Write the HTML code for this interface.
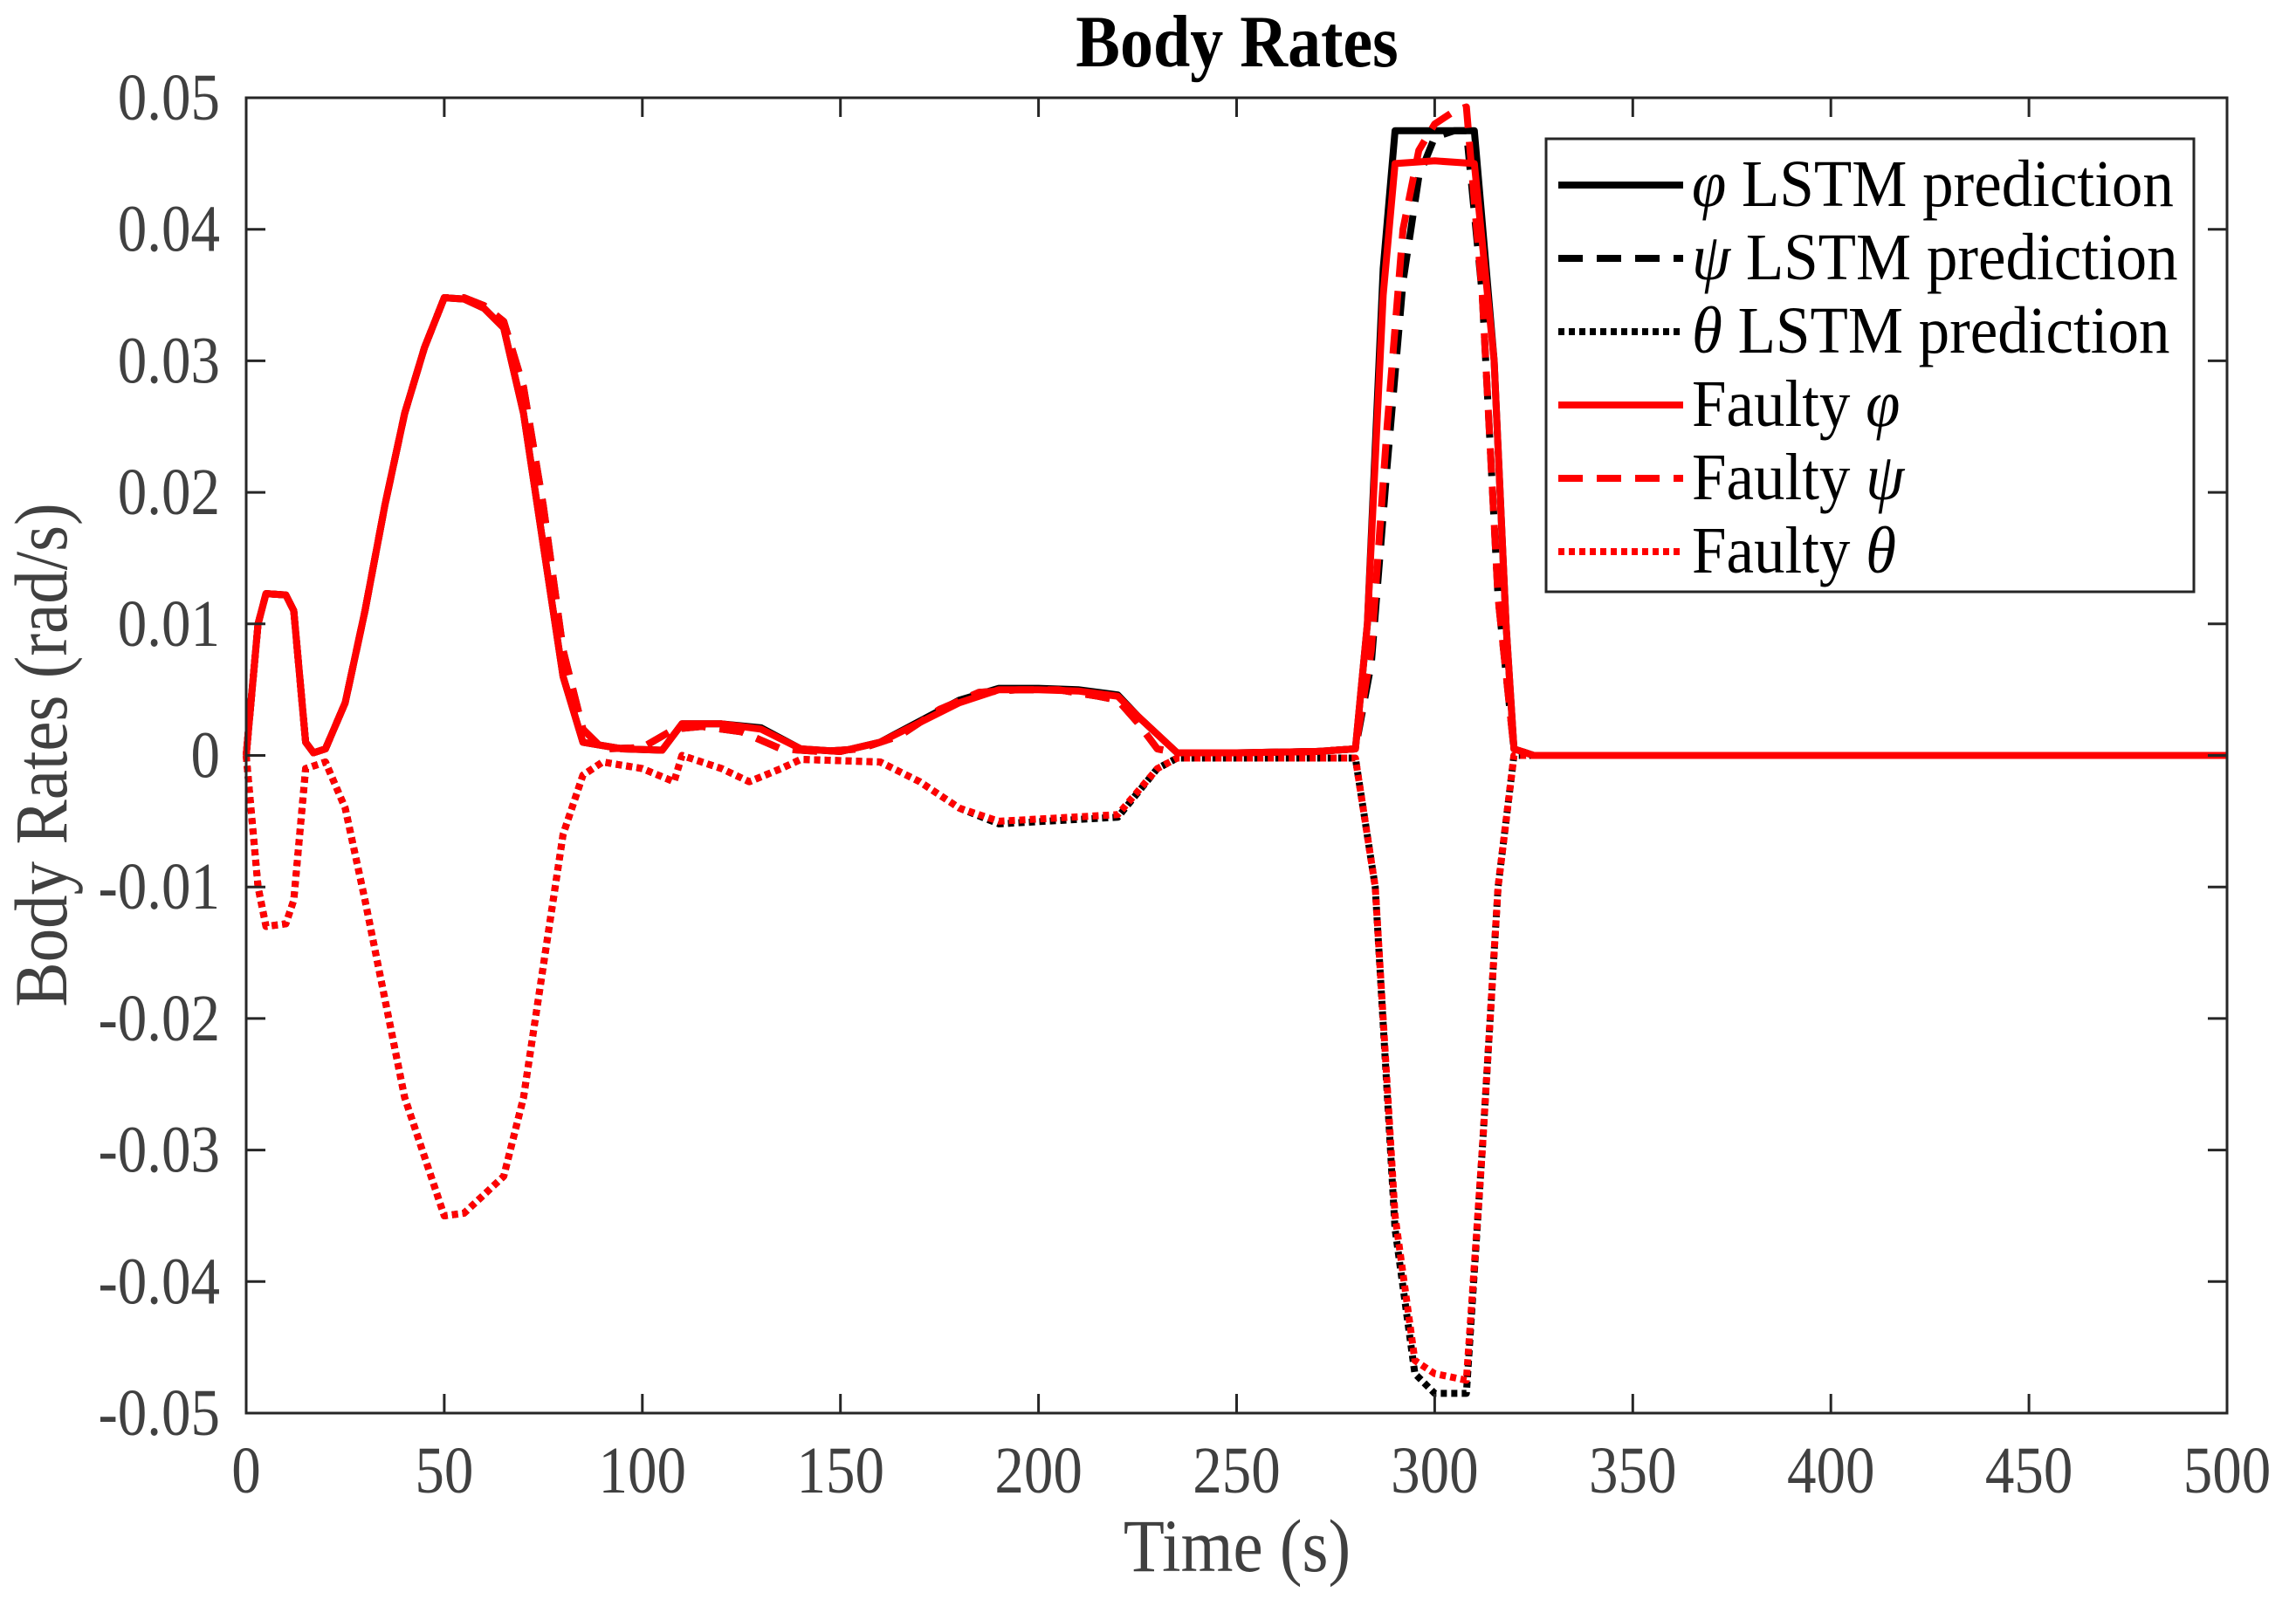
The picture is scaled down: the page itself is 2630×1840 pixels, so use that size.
<!DOCTYPE html>
<html><head><meta charset="utf-8"><style>
html,body{margin:0;padding:0;background:#fff;}
svg{display:block;font-family:"Liberation Serif",serif;}
</style></head><body>
<svg id="chart" width="2630" height="1840" viewBox="0 0 2630 1840" xmlns="http://www.w3.org/2000/svg">
<rect width="2630" height="1840" fill="#fff"/>
<text transform="translate(1417,76) scale(1,1.12)" text-anchor="middle" font-size="76" font-weight="bold" fill="#000">Body Rates</text>
<g id="series"></g>
<rect x="282" y="112" width="2269" height="1507" fill="none" stroke="#262626" stroke-width="3"/>
<g id="ticks"></g>
<text transform="translate(1417,1800) scale(1,1.12)" text-anchor="middle" font-size="77" fill="#404040">Time (s)</text>
<text transform="translate(76,865) rotate(-90) scale(1,1.12)" text-anchor="middle" font-size="77" fill="#404040">Body Rates (rad/s)</text>
<g>
<rect x="1771" y="159" width="742" height="519" fill="#fff" stroke="#262626" stroke-width="3"/>
<g id="legend-items"></g>
</g>
</svg>
<script>
const xTicks=[0,50,100,150,200,250,300,350,400,450,500];
const yTicks=[-0.05,-0.04,-0.03,-0.02,-0.01,0,0.01,0.02,0.03,0.04,0.05];
const yTickLabels=["-0.05","-0.04","-0.03","-0.02","-0.01","0","0.01","0.02","0.03","0.04","0.05"];
const tPhi=[0,3,5,10,12,15,17,20,25,30,35,40,45,50,55,60,65,70,75,80,85,95,105,110,120,130,140,150,160,170,180,190,200,210,220,225,235,250,270,280,283,287,290,300,310,315,318,320,325,500];
const faultyPhi=[0,0.010,0.0123,0.0122,0.011,0.001,0.0002,0.0005,0.004,0.011,0.019,0.026,0.031,0.0348,0.0347,0.034,0.0325,0.026,0.016,0.006,0.001,0.0005,0.0004,0.0024,0.0024,0.002,0.0005,0.0003,0.001,0.0025,0.004,0.005,0.005,0.0049,0.0045,0.003,0.0002,0.0002,0.0003,0.0005,0.010,0.035,0.045,0.0452,0.045,0.030,0.010,0.0005,0,0];
const lstmPhi=[0,0.010,0.0123,0.0122,0.011,0.001,0.0002,0.0005,0.004,0.011,0.019,0.026,0.031,0.0348,0.0347,0.034,0.0325,0.026,0.016,0.006,0.001,0.0005,0.0004,0.0024,0.0024,0.0021,0.0005,0.0003,0.001,0.0026,0.0042,0.0051,0.0051,0.005,0.0046,0.003,0.0002,0.0002,0.0003,0.0005,0.010,0.037,0.0475,0.0475,0.0475,0.030,0.010,0.0005,0,0];
const tPsi=[0,3,5,10,12,15,17,20,25,30,35,40,45,50,55,60,65,70,75,80,85,90,100,108,115,125,135,145,155,165,175,185,195,205,215,220,225,230,235,250,270,280,284,288,292,296,300,305,308,312,316,320,325,500];
const faultyPsi=[0,0.010,0.0123,0.0122,0.011,0.001,0.0002,0.0005,0.004,0.011,0.019,0.026,0.031,0.0348,0.0348,0.0342,0.033,0.028,0.019,0.008,0.002,0.0005,0.0006,0.002,0.0022,0.0018,0.0005,0.0003,0.0005,0.0015,0.0035,0.0048,0.005,0.005,0.0045,0.0042,0.0025,0.0005,0.0002,0.0002,0.0003,0.0005,0.008,0.025,0.040,0.046,0.048,0.049,0.0493,0.035,0.012,0.0005,0,0];
const lstmPsi=[0,0.010,0.0123,0.0122,0.011,0.001,0.0002,0.0005,0.004,0.011,0.019,0.026,0.031,0.0348,0.0348,0.0342,0.033,0.028,0.019,0.008,0.002,0.0005,0.0006,0.002,0.0022,0.0018,0.0005,0.0003,0.0005,0.0015,0.0035,0.0048,0.005,0.005,0.0045,0.0042,0.0025,0.0005,0.0002,0.0002,0.0003,0.0005,0.007,0.022,0.036,0.044,0.047,0.0475,0.0475,0.035,0.012,0.0005,0,0];
const tTheta=[0,3,5,10,12,15,20,25,30,40,50,55,65,70,80,85,90,100,108,110,120,127,135,140,160,170,180,190,220,230,235,280,285,290,295,300,308,312,316,320,500];
const faultyTheta=[0,-0.010,-0.013,-0.0128,-0.011,-0.001,-0.0005,-0.004,-0.011,-0.026,-0.035,-0.0348,-0.032,-0.026,-0.006,-0.0015,-0.0005,-0.001,-0.002,0,-0.001,-0.002,-0.001,-0.0003,-0.0005,-0.002,-0.004,-0.005,-0.0045,-0.001,-0.0002,-0.0002,-0.010,-0.035,-0.046,-0.047,-0.0475,-0.030,-0.010,0,0];
const lstmTheta=[0,-0.010,-0.013,-0.0128,-0.011,-0.001,-0.0005,-0.004,-0.011,-0.026,-0.035,-0.0348,-0.032,-0.026,-0.006,-0.0015,-0.0005,-0.001,-0.002,0,-0.001,-0.002,-0.001,-0.0003,-0.0005,-0.002,-0.004,-0.0052,-0.0047,-0.001,-0.0002,-0.0002,-0.010,-0.036,-0.047,-0.0485,-0.0485,-0.030,-0.010,0,0];

const NS="http://www.w3.org/2000/svg";
const X0=282,X1=2551,Y0=1619,Y1=112;
function sx(v){return X0+(v-0)/(500-0)*(X1-X0);}
function sy(v){return Y0-(v+0.05)/(0.1)*(Y0-Y1);}
function mk(tag,attrs,parent){const e=document.createElementNS(NS,tag);for(const k in attrs)e.setAttribute(k,attrs[k]);parent.appendChild(e);return e;}
const ticksG=document.getElementById('ticks');
xTicks.forEach(function(t){
  mk('line',{x1:sx(t),x2:sx(t),y1:Y0,y2:Y0-22,stroke:'#262626','stroke-width':3},ticksG);
  mk('line',{x1:sx(t),x2:sx(t),y1:Y1,y2:Y1+22,stroke:'#262626','stroke-width':3},ticksG);
  const tx=mk('text',{transform:'translate('+sx(t)+',1710) scale(1,1.14)','text-anchor':'middle','font-size':67,fill:'#404040'},ticksG);
  tx.textContent=String(t);
  
  
});
yTicks.forEach(function(v,i){
  mk('line',{x1:X0,x2:X0+22,y1:sy(v),y2:sy(v),stroke:'#262626','stroke-width':3},ticksG);
  mk('line',{x1:X1,x2:X1-22,y1:sy(v),y2:sy(v),stroke:'#262626','stroke-width':3},ticksG);
  const tx=mk('text',{transform:'translate(252,'+(sy(v)+25)+') scale(1,1.14)','text-anchor':'end','font-size':67,fill:'#404040'},ticksG);
  tx.textContent=yTickLabels[i];
  
  
});
const sg=document.getElementById('series');
function line(ts,vs,color,dash,name){
  let d='';
  ts.forEach(function(t,i){d+=(i?'L':'M')+sx(t).toFixed(1)+' '+sy(vs[i]).toFixed(1);});
  const p=mk('path',{d:d,fill:'none',stroke:color,'stroke-width':8,'stroke-linejoin':'round'},sg);
  if(dash)p.setAttribute('stroke-dasharray',dash);
  
  
}
line(tPhi,lstmPhi,'#000',null,'phi-lstm-line');
line(tPsi,lstmPsi,'#000','28 16','psi-lstm-line');
line(tTheta,lstmTheta,'#000','7 5','theta-lstm-line');
line(tPhi,faultyPhi,'#ff0000',null,'faulty-phi-line');
line(tPsi,faultyPsi,'#ff0000','28 16','faulty-psi-line');
line(tTheta,faultyTheta,'#ff0000','7 5','faulty-theta-line');
const lg=document.getElementById('legend-items');
const legendLabels=[['φ',' LSTM prediction','#000',null],['ψ',' LSTM prediction','#000','28 16'],['θ',' LSTM prediction','#000','7 5'],['Faulty ','φ','#ff0000',null],['Faulty ','ψ','#ff0000','28 16'],['Faulty ','θ','#ff0000','7 5']];
legendLabels.forEach(function(L,i){
  const y=212+i*84;
  const ln=mk('line',{x1:1785,x2:1928,y1:y,y2:y,stroke:L[2],'stroke-width':8},lg);
  if(L[3])ln.setAttribute('stroke-dasharray',L[3]);
  
  
  const tx=mk('text',{transform:'translate(1938,'+(y+24)+') scale(1,1.08)','font-size':71,fill:'#000'},lg);
  
  
  const a=document.createElementNS(NS,'tspan');a.textContent=L[0];
  const b=document.createElementNS(NS,'tspan');b.textContent=L[1];
  if(i<3)a.setAttribute('font-style','italic');else b.setAttribute('font-style','italic');
  tx.appendChild(a);tx.appendChild(b);
});
</script>
</body></html>
